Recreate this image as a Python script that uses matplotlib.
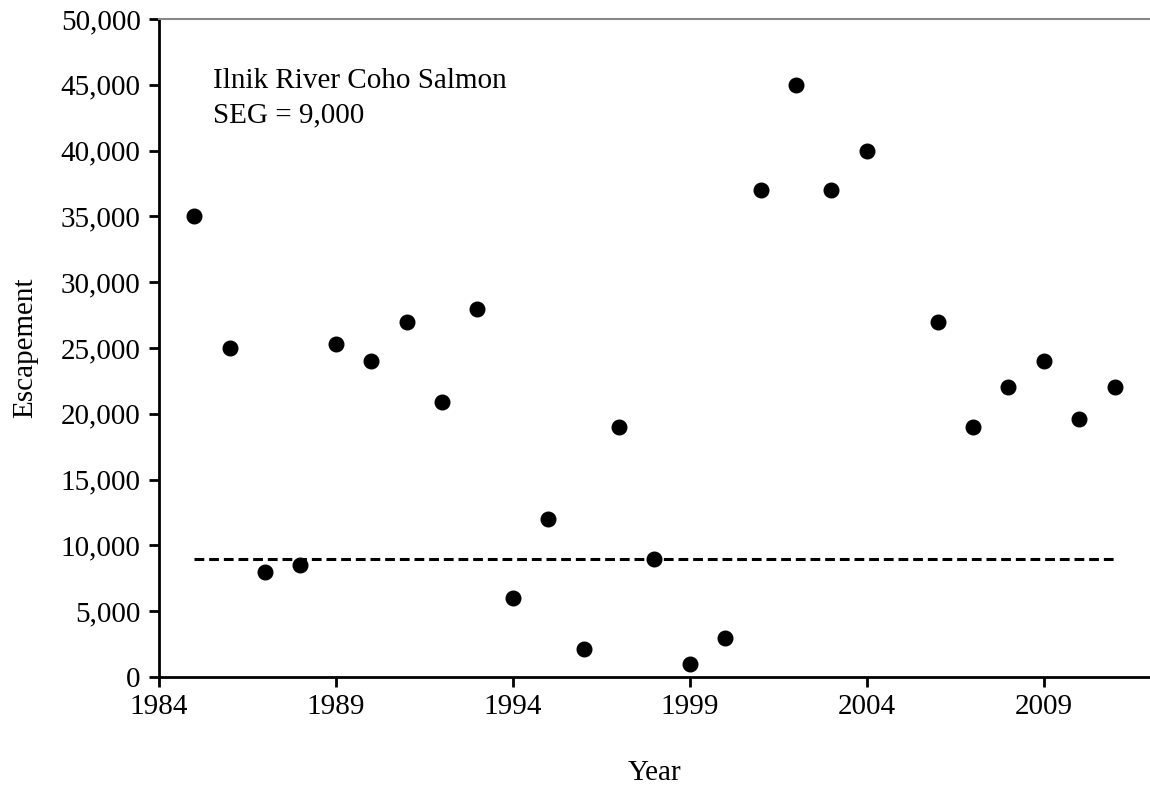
import matplotlib.pyplot as plt
from matplotlib.ticker import FuncFormatter

# Ilnik River coho escapement by year
years = [1985, 1986, 1987, 1988, 1989, 1990, 1991, 1992, 1993, 1994,
         1995, 1996, 1997, 1998, 1999, 2000, 2001, 2002, 2003, 2004,
         2006, 2007, 2008, 2009, 2010, 2011]
escapement = [35000, 25000, 8000, 8500, 25300, 24000, 27000, 20900, 28000, 6000,
              12000, 2100, 19000, 9000, 1000, 3000, 37000, 45000, 37000, 40000,
              27000, 19000, 22000, 24000, 19600, 22000]
seg_years = [1985, 2011]
seg_goal = 9000
xticks = [1984, 1989, 1994, 1999, 2004, 2009]

plt.rcParams['font.family'] = ['Liberation Serif', 'DejaVu Serif']

fig = plt.figure(figsize=(11.5, 7.85), dpi=100)
ax = fig.add_axes([0.138, 0.1376, 0.862, 0.8382])

ax.plot(seg_years, [seg_goal, seg_goal], color='black', linestyle=(0, (3.2, 1.6)), linewidth=2.2)
ax.plot(years, escapement, linestyle='none', marker='o', markersize=10.5, color='black')

ax.set_xlim(1984, 2012)
ax.set_ylim(0, 50000)
ax.set_xticks(xticks)
ax.set_yticks(range(0, 50001, 5000))
ax.yaxis.set_major_formatter(FuncFormatter(lambda v, p: '{:,.0f}'.format(v)))

ax.spines['right'].set_visible(False)
ax.spines['top'].set_color('#888888')
ax.spines['top'].set_linewidth(1.5)
ax.spines['left'].set_linewidth(2)
ax.spines['bottom'].set_linewidth(2)
ax.tick_params(direction='out', length=7, width=2, labelsize=21, pad=6)
ax.tick_params(axis='x', pad=5)

ax.set_xlabel('Year', fontsize=21, labelpad=29)
ax.set_ylabel('Escapement', fontsize=21, labelpad=16)

ax.text(0.055, 0.925, 'Ilnik River Coho Salmon\nSEG = 9,000', transform=ax.transAxes,
        fontsize=21, va='top', ha='left', linespacing=1.4)

fig.savefig('out.png', dpi=100)
